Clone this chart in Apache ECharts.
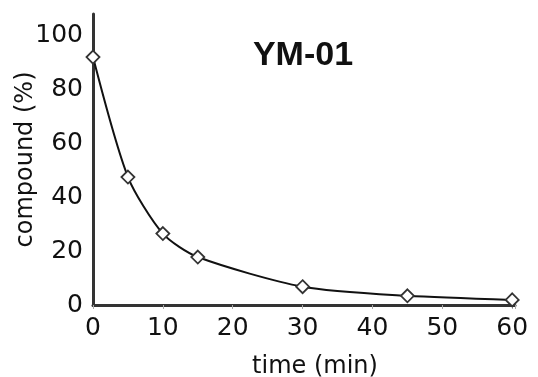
<!DOCTYPE html>
<html>
<head>
<meta charset="utf-8">
<script src="https://cdn.jsdelivr.net/npm/echarts@6/dist/echarts.min.js"></script>
<style>
  html, body { margin: 0; padding: 0; background: #fff; }
  #chart { width: 538px; height: 377px; }
</style>
</head>
<body>
<div id="chart"></div>
<script>
// data
const timeMin = [0, 5, 10, 15, 30, 45, 60];
const compoundPct = [92, 47.5, 26.5, 17.8, 6.8, 3.4, 1.9];
const xTicks = [0, 10, 20, 30, 40, 50, 60];
const yTicks = [0, 20, 40, 60, 80, 100];
const chartTitle = 'YM-01';

const chart = echarts.init(document.getElementById('chart'));

const txt = { fontFamily: 'DejaVu Sans', fontSize: 25, color: '#111' };

const option = {
    backgroundColor: '#fff',
    animation: false,
    title: {
        text: chartTitle,
        left: 298,
        top: 34,
        textAlign: 'center',
        textStyle: { fontFamily: 'Liberation Sans', fontWeight: 'bold', fontSize: 34, color: '#111' }
    },
    grid: { left: 93, right: 23, top: 14, bottom: 72, outerBoundsMode: 'none', containLabel: false },
    xAxis: {
        type: 'value',
        min: 0,
        max: 60.4,
        interval: 10,
        name: 'time (min)',
        nameLocation: 'middle',
        nameGap: 50,
        nameTextStyle: { ...txt, fontSize: 24, padding: [0, 0, 0, 22] },
        axisLine: { lineStyle: { color: '#333', width: 3 } },
        axisTick: { show: true, length: 4, lineStyle: { color: '#aaa', width: 1 } },
        axisLabel: {
            ...txt, margin: 11,
            formatter: v => xTicks.includes(v) ? String(v) : ''
        },
        splitLine: { show: false }
    },
    yAxis: {
        type: 'value',
        min: 0,
        max: 108,
        interval: 20,
        name: 'compound (%)',
        nameLocation: 'middle',
        nameRotate: 90,
        nameGap: 55,
        nameMoveOverlap: false,
        nameTextStyle: { ...txt, fontSize: 24 },
        axisLine: { show: true, lineStyle: { color: '#333', width: 3 } },
        axisTick: { show: false },
        axisLabel: {
            ...txt, margin: 10,
            formatter: v => yTicks.includes(v) ? String(v) : ''
        },
        splitLine: { show: false }
    },
    series: [{
        type: 'line',
        data: timeMin.map((t, i) => [t, compoundPct[i]]),
        smooth: 0.25,
        symbol: 'diamond',
        symbolSize: 13,
        lineStyle: { color: '#111', width: 2 },
        itemStyle: { color: '#fff', borderColor: '#333', borderWidth: 1.8 }
    }]
};

chart.setOption(option);
</script>
</body>
</html>
